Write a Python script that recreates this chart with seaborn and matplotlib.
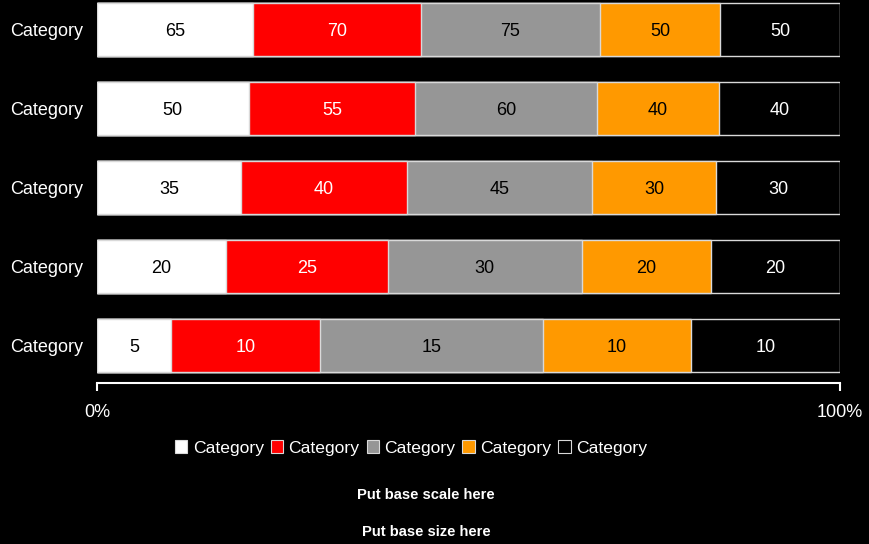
import matplotlib
matplotlib.use("Agg")
import matplotlib.pyplot as plt
from matplotlib.patches import Patch
import seaborn as sns
import pandas as pd
import numpy as np

categories = ["Category", "Category", "Category", "Category", "Category"]
series_names = ["Category", "Category", "Category", "Category", "Category"]
s1 = [65, 50, 35, 20, 5]
s2 = [70, 55, 40, 25, 10]
s3 = [75, 60, 45, 30, 15]
s4 = [50, 40, 30, 20, 10]
s5 = [50, 40, 30, 20, 10]
colors = ["#ffffff", "#ff0000", "#969696", "#ff9900", "#000000"]
text_colors = ["#000000", "#ffffff", "#000000", "#000000", "#ffffff"]
footer = ["Put base scale here", "Put base size here"]

sns.set_theme(style="white")
plt.rcParams["font.family"] = ["Liberation Sans", "DejaVu Sans"]

series = [s1, s2, s3, s4, s5]
vals = np.array(series, dtype=float)
totals = vals.sum(axis=0)
pct = vals / totals * 100
cum = np.cumsum(pct, axis=0)

fig = plt.figure(figsize=(8.69, 5.44), dpi=100, facecolor="black")
ax = fig.add_axes([97 / 869, 1 - 383 / 544, (840 - 97) / 869, 383 / 544])
ax.set_facecolor("black")

rows = [f"r{i}" for i in range(len(categories))]
# draw cumulative bars from largest to smallest so they stack
for k in range(len(series) - 1, -1, -1):
    df = pd.DataFrame({"row": rows, "value": cum[k]})
    sns.barplot(data=df, x="value", y="row", orient="h", color=colors[k],
                saturation=1, width=0.67, edgecolor="#d9d9d9", linewidth=1.0,
                ax=ax)

for k in range(len(series)):
    for i in range(len(categories)):
        left = cum[k][i] - pct[k][i]
        ax.text(left + pct[k][i] / 2, i, str(series[k][i]), ha="center",
                va="center_baseline", color=text_colors[k], fontsize=13)

ax.set_ylim(4.475, -0.373)
ax.set_xlim(0, 100)
ax.set_yticks(range(len(categories)))
ax.set_yticklabels(categories, color="white", fontsize=13)
ax.set_xticks([0, 100])
ax.set_xticklabels(["0%", "100%"], color="white", fontsize=13)
ax.set_xlabel("")
ax.set_ylabel("")
for sp in ["top", "right", "left"]:
    ax.spines[sp].set_visible(False)
ax.spines["bottom"].set_color("white")
ax.spines["bottom"].set_linewidth(1.5)
ax.tick_params(axis="x", bottom=True, length=6, width=1.5, color="white", pad=9)
ax.tick_params(axis="y", left=False, length=0, pad=10)

handles = [Patch(facecolor=c, edgecolor="#d9d9d9", linewidth=0.8) for c in colors]
leg = fig.legend(handles, series_names, loc="center", bbox_to_anchor=(411 / 869, 1 - 448 / 544),
                 ncol=5, frameon=False, fontsize=12.6, handlelength=0.72, handleheight=0.72,
                 handletextpad=0.3, columnspacing=0.4, labelcolor="white")

fig.text(426 / 869, 1 - 495 / 544, footer[0], ha="center", va="center", color="white",
         fontsize=10.6, fontweight="bold")
fig.text(426 / 869, 1 - 532 / 544, footer[1], ha="center", va="center", color="white",
         fontsize=10.6, fontweight="bold")

fig.savefig("out.png", dpi=100, facecolor="black")
